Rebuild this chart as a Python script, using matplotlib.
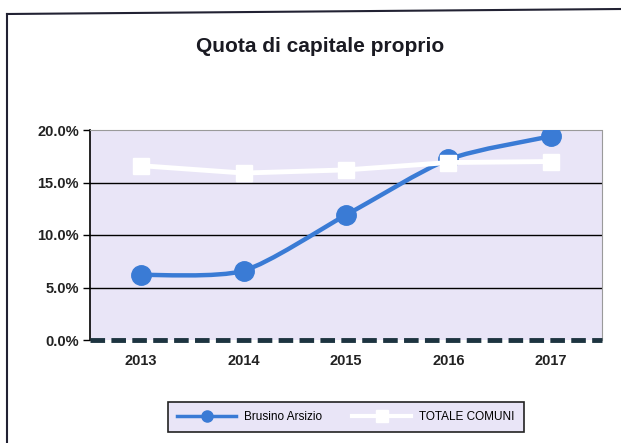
import matplotlib.pyplot as plt
import matplotlib.font_manager as fm
from matplotlib.path import Path
from matplotlib.patches import PathPatch
from matplotlib.lines import Line2D
from matplotlib.ticker import PercentFormatter

anni = ["2013", "2014", "2015", "2016", "2017"]
brusino = [6.2, 6.6, 11.9, 17.2, 19.4]
totale = [16.6, 15.9, 16.2, 16.9, 17.0]
yticks = [0, 5, 10, 15, 20]

nomi = {f.name for f in fm.fontManager.ttflist}
FONT = "Liberation Sans Narrow" if "Liberation Sans Narrow" in nomi else "Liberation Sans"
plt.rcParams["font.family"] = [FONT, "DejaVu Sans"]

BLU = "#3a7bd5"
LAVANDA = "#e9e5f7"


def curva_smussata(xs, ys):
    # curva di Bezier stile Excel (linea smussata) tra i punti dati
    verts = [(xs[0], ys[0])]
    codes = [Path.MOVETO]
    n = len(xs)
    for i in range(n - 1):
        x0, y0 = (xs[i - 1], ys[i - 1]) if i > 0 else (xs[i], ys[i])
        x1, y1 = xs[i], ys[i]
        x2, y2 = xs[i + 1], ys[i + 1]
        x3, y3 = (xs[i + 2], ys[i + 2]) if i + 2 < n else (x2, y2)
        c1 = (x1 + (x2 - x0) / 8, y1 + (y2 - y0) / 8)
        c2 = (x2 - (x3 - x1) / 8, y2 - (y3 - y1) / 8)
        verts += [c1, c2, (x2, y2)]
        codes += [Path.CURVE4] * 3
    return Path(verts, codes)


fig = plt.figure(figsize=(6.21, 4.43), dpi=100)
ax = fig.add_axes([90 / 621, 103 / 443, 512 / 621, 210 / 443])
ax.set_facecolor(LAVANDA)

x = list(range(len(anni)))
ax.set_xlim(-0.5, len(anni) - 0.5)
ax.set_ylim(0, 20)

for v in yticks[1:4]:
    ax.axhline(v, color="black", lw=1.0, zorder=1)

ax.add_patch(PathPatch(curva_smussata(x, brusino), facecolor="none",
                       edgecolor=BLU, lw=3.2, zorder=3))
ax.plot(x, brusino, linestyle="none", marker="o", markersize=14,
        color=BLU, zorder=3)
ax.plot(x, totale, color="white", lw=3.5, marker="s", markersize=12,
        markerfacecolor="white", markeredgecolor="white", zorder=4)

ax.axhline(0, color="#1d3440", lw=3.5, linestyle=(0, (3, 1.3)), zorder=6,
           clip_on=False)

ax.set_xticks(x)
ax.set_xticklabels(anni)
ax.set_yticks(yticks)
ax.yaxis.set_major_formatter(PercentFormatter(decimals=1))
ax.tick_params(axis="x", length=0, pad=10, labelsize=10.5)
ax.tick_params(axis="y", length=5, width=1, pad=3, labelsize=10.5)
for lab in ax.get_xticklabels() + ax.get_yticklabels():
    lab.set_fontweight("bold")
    lab.set_color("#222222")

ax.spines["left"].set_color("black")
ax.spines["left"].set_linewidth(1.2)
ax.spines["bottom"].set_visible(False)
for s in ["top", "right"]:
    ax.spines[s].set_color("#9a9a9a")
    ax.spines[s].set_linewidth(0.8)
    ax.spines[s].set_linestyle((0, (2, 1)))

fig.text(0.5155, 0.894, "Quota di capitale proprio", ha="center", va="center",
         fontsize=15, fontweight="bold", color="#1a1a22")

# cornice esterna
fig.add_artist(Line2D([7 / 621, 7 / 621], [0, 1 - 14 / 443], color="#222233", lw=1.5))
fig.add_artist(Line2D([7 / 621, 1], [1 - 14 / 443, 1 - 9 / 443], color="#222233", lw=1.5))

maniglie = [
    Line2D([], [], color=BLU, lw=2.5, marker="o", markersize=8),
    Line2D([], [], color="white", lw=3, marker="s", markersize=8),
]
leg = fig.legend(maniglie, ["Brusino Arsizio", "TOTALE COMUNI"], ncol=2,
                 loc="center", bbox_to_anchor=(346 / 621, 1 - 417 / 443),
                 frameon=True, fancybox=False, fontsize=8.5, handlelength=5,
                 columnspacing=2.5, borderpad=0.8, handletextpad=0.7)
leg.get_frame().set_facecolor(LAVANDA)
leg.get_frame().set_edgecolor("#222222")
leg.get_frame().set_linewidth(1.2)
leg.get_frame().set_alpha(1)

fig.savefig("out.png", dpi=100)
